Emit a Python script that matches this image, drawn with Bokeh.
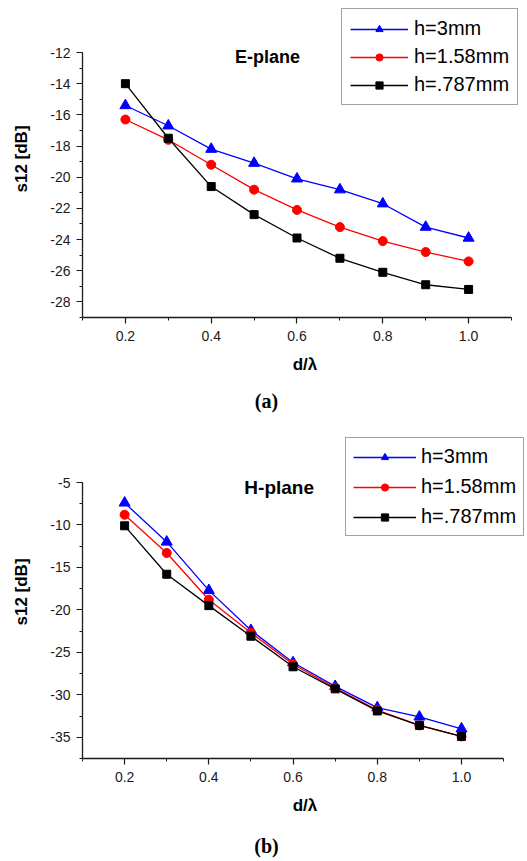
from bokeh.plotting import figure
from bokeh.layouts import column
from bokeh.models import (Legend, LegendItem, Label, SingleIntervalTicker,
                          PrintfTickFormatter, NumeralTickFormatter, Range1d)
from bokeh.embed import file_html
from bokeh.resources import INLINE

# ---------------- data ----------------
d_lambda = [0.2, 0.3, 0.4, 0.5, 0.6, 0.7, 0.8, 0.9, 1.0]

series_labels = ["h=3mm", "h=1.58mm", "h=.787mm"]

e_h3 = [-15.4, -16.7, -18.2, -19.1, -20.1, -20.8, -21.7, -23.2, -23.9]
e_h158 = [-16.3, -17.6, -19.2, -20.8, -22.1, -23.2, -24.1, -24.8, -25.4]
e_h0787 = [-14.0, -17.5, -20.6, -22.4, -23.9, -25.2, -26.1, -26.9, -27.2]

h_h3 = [-7.4, -12.0, -17.7, -22.4, -26.2, -29.0, -31.5, -32.6, -34.0]
h_h158 = [-8.8, -13.3, -18.8, -22.7, -26.4, -29.2, -31.8, -33.6, -34.9]
h_h0787 = [-10.1, -15.8, -19.5, -23.1, -26.7, -29.3, -31.9, -33.6, -34.9]

FONT = "Liberation Sans"
AXC = "#1a1a1a"
W = 527


def make_panel(height, b_left, b_bottom, x_end, y_start, y_end,
               y_axis_end, y_interval, series, plane_text, plane_x, plane_y,
               plane_size, legend_loc, leg_pad, leg_spacing, leg_glyph_w,
               leg_standoff):
    p = figure(width=W, height=height, output_backend="svg",
               toolbar_location=None, min_border_left=b_left,
               min_border_right=0, min_border_top=0,
               min_border_bottom=b_bottom,
               x_range=Range1d(0.1, x_end), y_range=Range1d(y_start, y_end))
    p.outline_line_color = None
    p.grid.visible = False
    p.background_fill_color = "white"
    p.border_fill_color = "white"

    p.xaxis.ticker = SingleIntervalTicker(interval=0.2, num_minor_ticks=2)
    p.yaxis.ticker = SingleIntervalTicker(interval=y_interval, num_minor_ticks=2)
    p.xaxis.formatter = NumeralTickFormatter(format="0.0")
    p.yaxis.formatter = PrintfTickFormatter(format="%d")
    p.xaxis.bounds = (0.1, 1.1)
    p.yaxis.bounds = (y_start, y_axis_end)
    for ax in (p.xaxis[0], p.yaxis[0]):
        ax.axis_line_color = AXC
        ax.axis_line_width = 1.3
        ax.major_tick_line_color = AXC
        ax.minor_tick_line_color = AXC
        ax.major_tick_line_width = 1.2
        ax.minor_tick_line_width = 1.0
        ax.major_tick_out = 6
        ax.major_tick_in = 0
        ax.minor_tick_out = 3
        ax.minor_tick_in = 0
        ax.major_label_text_font = FONT
        ax.major_label_text_font_size = "14px"
        ax.major_label_text_color = AXC
        ax.axis_label_text_font = FONT
        ax.axis_label_text_font_style = "bold"
        ax.axis_label_text_font_size = "17px"
        ax.axis_label_text_color = "black"
    p.xaxis.axis_label = "d/λ"
    p.xaxis.major_label_standoff = 7
    p.xaxis.axis_label_standoff = 11
    p.yaxis.axis_label = "s12 [dB]"
    p.yaxis.major_label_standoff = 6
    p.yaxis.axis_label_standoff = 16

    styles = [("#0000ff", "triangle", 11), ("#ff0000", "circle", 9),
              ("black", "square", 8)]
    items = []
    for (ys, lab), (col, mk, sz) in zip(zip(series, series_labels), styles):
        ln = p.line(d_lambda, ys, line_color=col, line_width=1.3)
        sc = p.scatter(d_lambda, ys, marker=mk, size=sz, fill_color=col,
                       line_color=col)
        items.append(LegendItem(label=lab, renderers=[ln, sc]))

    leg = Legend(items=items, location=legend_loc, orientation="vertical")
    leg.label_text_font = FONT
    leg.label_text_font_size = "20px"
    leg.label_text_color = "black"
    leg.glyph_width = leg_glyph_w
    leg.glyph_height = 18
    leg.label_height = 20
    leg.label_standoff = leg_standoff
    leg.spacing = leg_spacing
    leg.padding = leg_pad
    leg.margin = 0
    leg.border_line_color = "#444444"
    leg.border_line_width = 1.3
    leg.background_fill_color = "white"
    leg.background_fill_alpha = 1.0
    p.add_layout(leg, "center")

    p.add_layout(Label(x=plane_x, y=plane_y, text=plane_text,
                       text_align="center", text_baseline="middle",
                       text_font=FONT, text_font_style="bold",
                       text_font_size=plane_size, text_color="black"))
    return p


def make_caption(height, text, cx, cy):
    c = figure(width=W, height=height, output_backend="svg",
               toolbar_location=None, min_border=0,
               x_axis_type=None, y_axis_type=None,
               x_range=Range1d(0, 1), y_range=Range1d(0, 1))
    c.outline_line_color = None
    c.grid.visible = False
    c.add_layout(Label(x=cx, y=cy, x_units="screen", y_units="screen",
                       text=text, text_align="center", text_baseline="middle",
                       text_font="Liberation Serif", text_font_style="bold",
                       text_font_size="20px", text_color="black"))
    return c


# top panel: frame spans y 0..317, x 82..527
p1 = make_panel(387, 82, 70, 1.1373, -29, -8.664, -12, 2,
                [e_h3, e_h158, e_h0787], "E-plane", 0.531, -12.32, "18px",
                (259, 212), 8, 5, 58, 6)
c1 = make_caption(38, "(a)", 184, 25)
# bottom panel: frame spans y 425..758
p2 = make_panel(403, 80, 70, 1.1567, -37.5, 1.712, -5, 5,
                [h_h3, h_h158, h_h0787], "H-plane", 0.567, -5.6, "19px",
                (263, 222), 7, 7, 63, 5)
c2 = make_caption(33, "(b)", 184, 16)

layout = column(p1, c1, p2, c2, spacing=0)
open("out.html", "w").write(file_html(layout, INLINE))
